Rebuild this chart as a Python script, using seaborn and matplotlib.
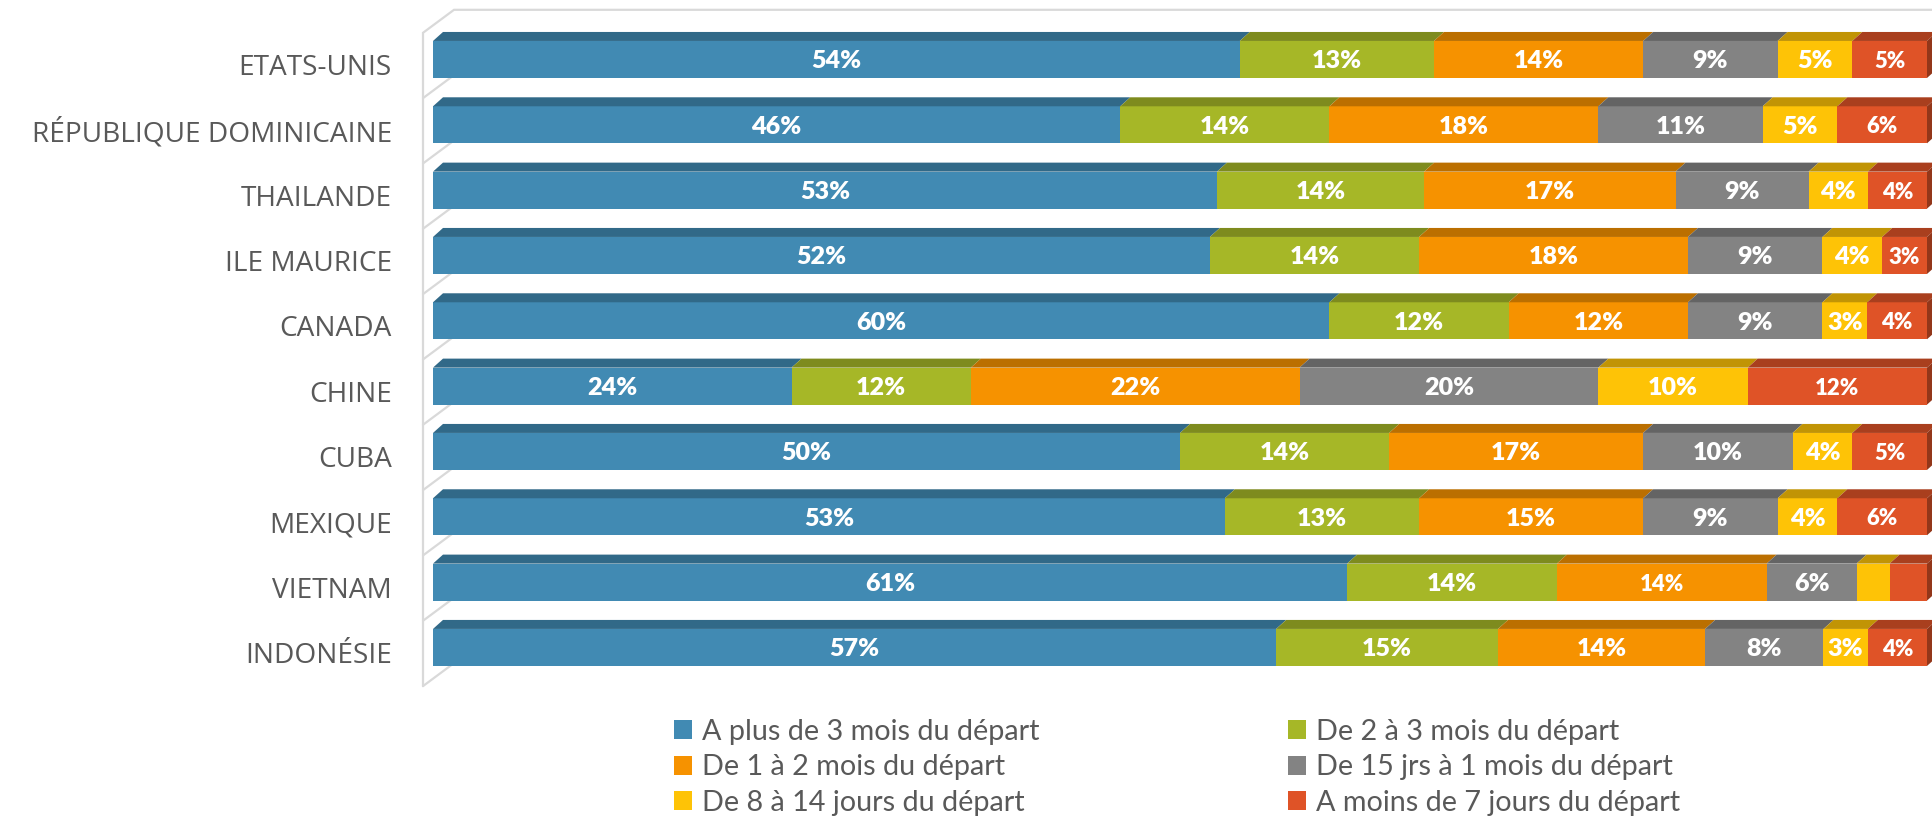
import numpy as np
import pandas as pd
import matplotlib
matplotlib.use("Agg")
import matplotlib.pyplot as plt
import seaborn as sns
from matplotlib import font_manager as fm
from matplotlib.patches import Polygon, Patch

# ---------------- data ----------------
countries = ["ETATS-UNIS", "RÉPUBLIQUE DOMINICAINE", "THAILANDE", "ILE MAURICE",
             "CANADA", "CHINE", "CUBA", "MEXIQUE", "VIETNAM", "INDONÉSIE"]
series = ["A plus de 3 mois du départ", "De 2 à 3 mois du départ",
          "De 1 à 2 mois du départ", "De 15 jrs à 1 mois du départ",
          "De 8 à 14 jours du départ", "A moins de 7 jours du départ"]
plus_3_mois = [54, 46, 53, 52, 60, 24, 50, 53, 61, 57]
de_2_a_3_mois = [13, 14, 14, 14, 12, 12, 14, 13, 14, 15]
de_1_a_2_mois = [14, 18, 17, 18, 12, 22, 17, 15, 14, 14]
de_15j_a_1_mois = [9, 11, 9, 9, 9, 20, 10, 9, 6, 8]
de_8_a_14_jours = [5, 5, 4, 4, 3, 10, 4, 4, 2.2, 3]
moins_7_jours = [5, 6, 4, 3, 4, 12, 5, 6, 2.5, 4]
colors = ["#418AB3", "#A6B727", "#F69200", "#838383", "#FEC306", "#DF5327"]

values = np.array([plus_3_mois, de_2_a_3_mois, de_1_a_2_mois,
                   de_15j_a_1_mois, de_8_a_14_jours, moins_7_jours], dtype=float)
shares = values / values.sum(axis=0) * 100.0        # 100 % stacked
cum = np.cumsum(shares, axis=0)
lefts = cum - shares

# ---------------- fonts ----------------
avail = {f.name for f in fm.fontManager.ttflist}
def pick(*names):
    for n in names:
        if n in avail:
            return n
    return "DejaVu Sans"
f_main = pick("Lato", "Open Sans", "DejaVu Sans")
f_cat = pick("Open Sans", "DejaVu Sans")

sns.set_style("white")
plt.rcParams["font.family"] = [f_main, "DejaVu Sans"]

W, H, DPI = 1933, 816, 100
fig = plt.figure(figsize=(W / DPI, H / DPI), dpi=DPI)
renderer = fig.canvas.get_renderer()

def measure(s, family, weight, size=20):
    t = fig.text(0, 0, s, fontsize=size, family=family, fontweight=weight)
    bb = t.get_window_extent(renderer)
    t.remove()
    return bb.width, bb.height

def fit(s, family, weight, target_px):
    w, _ = measure(s, family, weight)
    return 20 * target_px / w

# axes geometry (pixels)
ax_l, ax_r, ax_t, ax_b = 433, 1927, 26.8, 680.1
ax = fig.add_axes([ax_l / W, 1 - ax_b / H, (ax_r - ax_l) / W, (ax_b - ax_t) / H])
ax.patch.set_visible(False)
sx = (ax_r - ax_l) / 100.0      # px per x unit
sy = (ax_b - ax_t) / 10.0       # px per row
bar_h = 37 / sy

# ---------------- front faces (seaborn, stacked by cumulative overlay) ----------------
for j in range(len(series) - 1, -1, -1):
    df = pd.DataFrame({"pays": countries, "cumul": cum[j]})
    sns.barplot(data=df, x="cumul", y="pays", order=countries, orient="h",
                color=colors[j], saturation=1, width=bar_h, errorbar=None,
                linewidth=0, ax=ax, zorder=1)

ax.set_xlim(0, 100)
ax.set_ylim(len(countries) - 0.5, -0.5)
ax.set_xlabel("")
ax.set_ylabel("")
ax.set_xticks([])
ax.set_yticks([])
for s in ax.spines.values():
    s.set_visible(False)

# ---------------- side wall lines ----------------
wall_c = "#D9D9D9"
wx0, wx1 = -10 / sx, 21 / sx
wdy0, wdy1 = 6 / sy, (6 - 23) / sy
ax.plot([wx0, wx0, wx1, (W - ax_l) / sx],
        [len(countries) - 0.5 + wdy0, -0.5 + wdy0, -0.5 + wdy1, -0.5 + wdy1],
        color=wall_c, lw=1.6, clip_on=False, zorder=0.5, solid_joinstyle="miter")
for k in range(1, len(countries) + 1):
    yb = k - 0.5
    ax.plot([wx0, wx1], [yb + wdy0, yb + wdy1], color=wall_c, lw=1.6,
            clip_on=False, zorder=0.5)

# ---------------- 3D top and side faces ----------------
def darker(c, f):
    r, g, b = matplotlib.colors.to_rgb(c)
    return (r * f, g * f, b * f)

ddx, ddy = 10 / sx, 9 / sy
for i in range(len(countries)):
    yt = i - bar_h / 2
    yb = i + bar_h / 2
    for j in range(len(series)):
        x0, x1 = lefts[j, i], cum[j, i]
        ax.add_patch(Polygon([(x0, yt), (x1, yt), (x1 + ddx, yt - ddy), (x0 + ddx, yt - ddy)],
                             closed=True, facecolor=darker(colors[j], 0.76),
                             edgecolor="none", zorder=1.2, clip_on=False))
    xe = cum[-1, i]
    ax.add_patch(Polygon([(xe, yt), (xe + ddx, yt - ddy), (xe + ddx, yb - ddy), (xe, yb)],
                         closed=True, facecolor=darker(colors[-1], 0.66),
                         edgecolor="none", zorder=1.2, clip_on=False))

# ---------------- value labels ----------------
fs_val = fit("54%", f_main, "heavy", 50)
small = {(8, 2)}
for i in range(len(countries)):
    for j in range(len(series)):
        v = values[j, i]
        if v < 3:
            continue
        fs = fs_val * (0.88 if (j == 5 or (i, j) in small) else 1.0)
        ax.text(lefts[j, i] + shares[j, i] / 2, i + 2 / sy, f"{v:.0f}%",
                ha="center", va="center", color="white", fontsize=fs,
                fontweight="heavy", family=f_main, zorder=3)

# ---------------- category labels ----------------
fs_cat = fit("RÉPUBLIQUE DOMINICAINE", f_cat, "normal", 360)
for i, c in enumerate(countries):
    ax.text(-41 / sx, i + 8.5 / sy, c, ha="right", va="center", color="#595959",
            fontsize=fs_cat, family=f_cat, clip_on=False)

# ---------------- legend ----------------
fs_leg = fit("A plus de 3 mois du départ", f_main, "normal", 338)
F_px = fs_leg * DPI / 72
_, th = measure("A plus de 3 mois du départ", f_main, "normal", fs_leg)
handles = [Patch(facecolor=c, edgecolor="none") for c in colors]
common = dict(frameon=False, fontsize=fs_leg, handlelength=18 / F_px,
              handleheight=18 / F_px, handletextpad=10 / F_px,
              labelspacing=max(0.0, (35.5 - th) / F_px), borderpad=0,
              borderaxespad=0, loc="center left", labelcolor="#595959")
fig.legend([handles[k] for k in (0, 2, 4)], [series[k] for k in (0, 2, 4)],
           bbox_to_anchor=(674 / W, 1 - 767.5 / H), **common)
fig.legend([handles[k] for k in (1, 3, 5)], [series[k] for k in (1, 3, 5)],
           bbox_to_anchor=(1288 / W, 1 - 767.5 / H), **common)

fig.savefig("out.png", dpi=DPI, facecolor="white")
